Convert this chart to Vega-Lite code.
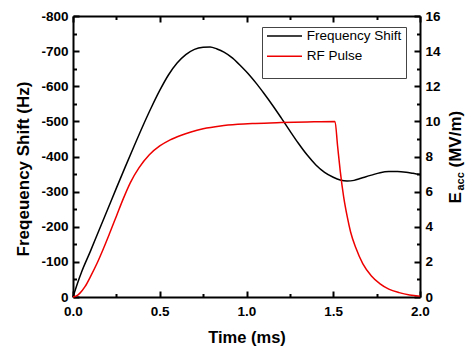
{
  "$schema": "https://vega.github.io/schema/vega-lite/v6.json",
  "width": 347,
  "height": 281,
  "autosize": {"type": "none"},
  "padding": {"left": 73, "top": 16, "right": 48, "bottom": 51},
  "background": "white",
  "config": {
    "view": {"stroke": null},
    "font": "Liberation Sans",
    "axis": {
      "grid": false,
      "ticks": true,
      "domainColor": "black",
      "domainWidth": 2,
      "tickColor": "black",
      "tickWidth": 2,
      "labelColor": "black",
      "labelFont": "Liberation Sans",
      "labelFontWeight": "bold",
      "labelFontSize": 13.5,
      "labelFlush": false,
      "labelOverlap": false,
      "labelBound": false,
      "titleColor": "black",
      "titleFont": "Liberation Sans",
      "titleFontWeight": "bold",
      "titleFontSize": 17
    }
  },
  "datasets": {
    "shift": [
      {"t": 0, "hz": 0}, {"t": 0.025, "hz": -38}, {"t": 0.05, "hz": -72}, {"t": 0.1, "hz": -130},
      {"t": 0.15, "hz": -190}, {"t": 0.2, "hz": -250}, {"t": 0.25, "hz": -310}, {"t": 0.3, "hz": -369},
      {"t": 0.35, "hz": -427}, {"t": 0.4, "hz": -484}, {"t": 0.45, "hz": -538}, {"t": 0.5, "hz": -588},
      {"t": 0.55, "hz": -632}, {"t": 0.6, "hz": -666}, {"t": 0.65, "hz": -690}, {"t": 0.7, "hz": -705},
      {"t": 0.75, "hz": -711}, {"t": 0.79, "hz": -712}, {"t": 0.83, "hz": -706}, {"t": 0.87, "hz": -697},
      {"t": 0.92, "hz": -680}, {"t": 0.97, "hz": -656}, {"t": 1.02, "hz": -630}, {"t": 1.06, "hz": -606},
      {"t": 1.1, "hz": -580}, {"t": 1.15, "hz": -546}, {"t": 1.2, "hz": -510}, {"t": 1.25, "hz": -473},
      {"t": 1.3, "hz": -437}, {"t": 1.35, "hz": -404}, {"t": 1.4, "hz": -376}, {"t": 1.45, "hz": -355},
      {"t": 1.5, "hz": -341}, {"t": 1.54, "hz": -333}, {"t": 1.58, "hz": -330}, {"t": 1.62, "hz": -332},
      {"t": 1.66, "hz": -338}, {"t": 1.72, "hz": -347}, {"t": 1.77, "hz": -354}, {"t": 1.82, "hz": -357},
      {"t": 1.87, "hz": -357}, {"t": 1.92, "hz": -355}, {"t": 1.96, "hz": -352}, {"t": 2.0, "hz": -349}
    ],
    "pulse": [
      {"t": 0, "e": 0}, {"t": 0.02, "e": 0.06}, {"t": 0.04, "e": 0.22}, {"t": 0.07, "e": 0.6},
      {"t": 0.1, "e": 1.15}, {"t": 0.14, "e": 1.95}, {"t": 0.175, "e": 2.75}, {"t": 0.21, "e": 3.6},
      {"t": 0.25, "e": 4.6}, {"t": 0.29, "e": 5.6}, {"t": 0.33, "e": 6.5}, {"t": 0.38, "e": 7.35},
      {"t": 0.44, "e": 8.1}, {"t": 0.5, "e": 8.6}, {"t": 0.56, "e": 8.95}, {"t": 0.62, "e": 9.2},
      {"t": 0.68, "e": 9.4}, {"t": 0.75, "e": 9.58}, {"t": 0.85, "e": 9.74}, {"t": 0.95, "e": 9.83},
      {"t": 1.05, "e": 9.88}, {"t": 1.2, "e": 9.93}, {"t": 1.35, "e": 9.97}, {"t": 1.51, "e": 10.0},
      {"t": 1.525, "e": 8.6}, {"t": 1.54, "e": 7.2}, {"t": 1.56, "e": 5.7}, {"t": 1.58, "e": 4.6},
      {"t": 1.6, "e": 3.7}, {"t": 1.63, "e": 2.8}, {"t": 1.67, "e": 1.9}, {"t": 1.72, "e": 1.2},
      {"t": 1.77, "e": 0.75}, {"t": 1.82, "e": 0.45}, {"t": 1.88, "e": 0.25}, {"t": 1.94, "e": 0.12},
      {"t": 2.0, "e": 0.05}
    ]
  },
  "layer": [
    {
      "data": {"name": "shift"},
      "mark": {"type": "line", "strokeWidth": 1.5, "interpolate": "monotone"},
      "encoding": {
        "x": {
          "field": "t", "type": "quantitative",
          "scale": {"domain": [0, 2], "nice": false, "zero": false},
          "axis": {
            "orient": "bottom",
            "values": [0, 0.5, 1, 1.5, 2],
            "format": ".1f",
            "tickSize": -6,
            "labelPadding": 13,
            "title": "Time (ms)",
            "titleFontSize": 16.5,
            "titleX": 173.5,
            "titleY": 45.5,
            "titleAlign": "center",
            "titleBaseline": "alphabetic"
          }
        },
        "y": {
          "field": "hz", "type": "quantitative",
          "scale": {"domain": [-800, 0], "reverse": true, "nice": false, "zero": false},
          "axis": {
            "orient": "left",
            "values": [-800, -700, -600, -500, -400, -300, -200, -100, 0],
            "labelExpr": "'' + datum.value",
            "tickSize": -6,
            "labelPadding": 11,
            "title": "Freqeuency Shift (Hz)",
            "titleAngle": 270,
            "titleX": -44.5,
            "titleY": 152.5,
            "titleAlign": "center",
            "titleBaseline": "alphabetic"
          }
        },
        "color": {
          "datum": "Frequency Shift", "type": "nominal",
          "scale": {"domain": ["Frequency Shift", "RF Pulse"], "range": ["#000000", "#ee0000"]},
          "legend": {
            "orient": "none",
            "legendX": 189,
            "legendY": 11,
            "title": " ",
            "titleOrient": "bottom",
            "titleFontSize": 10,
            "titlePadding": 1,
            "symbolType": "stroke",
            "symbolSize": 1225,
            "symbolStrokeWidth": 1.5,
            "clipHeight": 10,
            "labelOffset": 3.7,
            "labelFont": "Liberation Sans",
            "labelFontSize": 13.5,
            "labelColor": "black",
            "rowPadding": 6.3,
            "padding": 4,
            "strokeColor": "#444444",
            "fillColor": "white"
          }
        }
      }
    },
    {
      "data": {"name": "pulse"},
      "mark": {"type": "line", "strokeWidth": 1.5, "interpolate": "monotone"},
      "encoding": {
        "x": {
          "field": "t", "type": "quantitative",
          "scale": {"domain": [0, 2], "nice": false, "zero": false},
          "axis": {
            "orient": "top",
            "values": [0, 0.5, 1, 1.5, 2],
            "labels": false,
            "tickSize": -6,
            "title": "(MV/m)",
            "titleAngle": 270,
            "titleX": 387,
            "titleY": 151,
            "titleAlign": "left",
            "titleBaseline": "alphabetic"
          }
        },
        "y": {
          "field": "e", "type": "quantitative",
          "scale": {"domain": [0, 16], "nice": false, "zero": false},
          "axis": {
            "orient": "right",
            "values": [0, 2, 4, 6, 8, 10, 12, 14, 16],
            "labelExpr": "'' + datum.value",
            "tickSize": -6,
            "labelPadding": 11,
            "title": "E",
            "titleAngle": 270,
            "titleX": 40,
            "titleY": 187,
            "titleAlign": "left",
            "titleBaseline": "alphabetic"
          }
        },
        "color": {"datum": "RF Pulse", "type": "nominal"}
      }
    },
    {
      "data": {"name": "pulse"},
      "mark": {"type": "line", "opacity": 0},
      "encoding": {
        "x": {
          "field": "t", "type": "quantitative",
          "scale": {"domain": [0, 2], "nice": false, "zero": false},
          "axis": {
            "orient": "top",
            "values": [0.25, 0.75, 1.25, 1.75],
            "domain": false,
            "labels": false,
            "tickSize": -3.5,
            "title": null
          }
        },
        "y": {
          "field": "e", "type": "quantitative",
          "scale": {"domain": [0, 16], "nice": false, "zero": false},
          "axis": {
            "orient": "right",
            "values": [1, 3, 5, 7, 9, 11, 13, 15],
            "domain": false,
            "labels": false,
            "tickSize": -3.5,
            "title": "acc",
            "titleFontSize": 11,
            "titleAngle": 270,
            "titleX": 43.5,
            "titleY": 174,
            "titleAlign": "left",
            "titleBaseline": "alphabetic"
          }
        }
      }
    },
    {
      "data": {"name": "shift"},
      "mark": {"type": "line", "opacity": 0},
      "encoding": {
        "x": {
          "field": "t", "type": "quantitative",
          "scale": {"domain": [0, 2], "nice": false, "zero": false},
          "axis": {
            "orient": "bottom",
            "values": [0.25, 0.75, 1.25, 1.75],
            "domain": false,
            "labels": false,
            "tickSize": -3.5,
            "title": null
          }
        },
        "y": {
          "field": "hz", "type": "quantitative",
          "scale": {"domain": [-800, 0], "reverse": true, "nice": false, "zero": false},
          "axis": {
            "orient": "left",
            "values": [-750, -650, -550, -450, -350, -250, -150, -50],
            "domain": false,
            "labels": false,
            "tickSize": -3.5,
            "title": null
          }
        }
      }
    }
  ],
  "resolve": {"scale": {"y": "independent"}, "axis": {"x": "independent"}}
}
